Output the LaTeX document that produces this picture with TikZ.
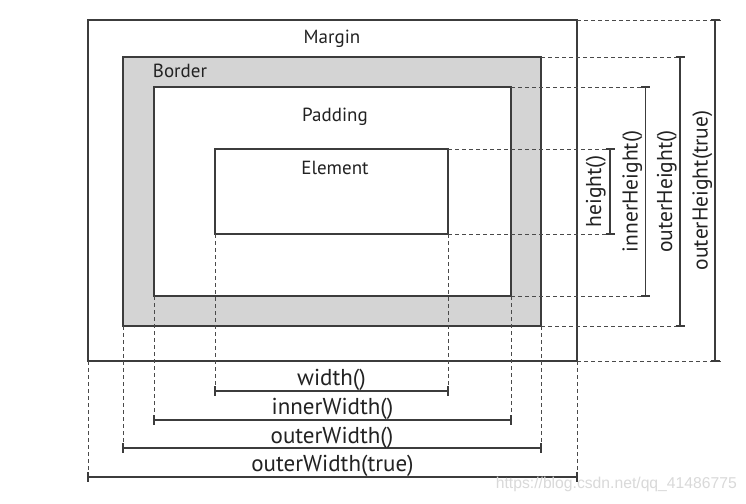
\documentclass[tikz,border=0pt]{standalone}
\usepackage{fontspec}
\setmainfont{PT Sans}
\newfontfamily\wmfont{Liberation Sans}
\definecolor{boxc}{HTML}{3C3C3C}
\definecolor{guidec}{HTML}{4A4A4A}
\definecolor{fillc}{HTML}{D4D4D4}
\definecolor{txtc}{HTML}{222222}
\definecolor{wmc}{HTML}{D9D9D9}
\begin{document}
\begin{tikzpicture}[x=1pt,y=-1pt,
  box/.style={draw=boxc, line width=1.3pt},
  guide/.style={draw=guidec, line width=0.9pt, dash pattern=on 4pt off 3pt},
  dim/.style={draw=boxc, line width=1.1pt},
  lbl/.style={font=\fontsize{19}{22}\selectfont, text=txtc, inner sep=0pt, anchor=base},
  dlbl/.style={font=\fontsize{23}{26}\selectfont, text=txtc, inner sep=0pt, anchor=base},
  vlbl/.style={font=\fontsize{21.5}{25}\selectfont, text=txtc, inner sep=0pt, anchor=base, rotate=90}]
\useasboundingbox (0,0) rectangle (746,503);
\fill[white] (0,0) rectangle (746,503);
% box corners
\coordinate (M1) at (88,20);  \coordinate (M2) at (577,361);
\coordinate (B1) at (123,57); \coordinate (B2) at (541,326);
\coordinate (P1) at (154,87); \coordinate (P2) at (511,296);
\coordinate (E1) at (215,149);\coordinate (E2) at (448,234);
% boxes
\draw[box] (M1) rectangle (M2);
\filldraw[box, fill=fillc] (B1) rectangle (B2);
\filldraw[box, fill=white] (P1) rectangle (P2);
\draw[box] (E1) rectangle (E2);
% box labels
\node[lbl] (lm) at (332,44) {Margin};
\node[lbl] (lb) at (180,77.5) {Border};
\node[lbl] (lp) at (335,121) {Padding};
\node[lbl] (le) at (335,174) {Element};
% horizontal guides to the right
\coordinate (hE1) at (613,149); \coordinate (hE2) at (613,234);
\coordinate (hP1) at (650,87);  \coordinate (hP2) at (650,296);
\coordinate (hB1) at (686,57);  \coordinate (hB2) at (686,326);
\coordinate (hM1) at (721,20);  \coordinate (hM2) at (721,361);
\draw[guide] (E2 |- E1) -- (hE1);
\draw[guide] (E2) -- (hE2);
\draw[guide] (P2 |- P1) -- (hP1);
\draw[guide] (P2) -- (hP2);
\draw[guide] (B2 |- B1) -- (hB1);
\draw[guide] (B2) -- (hB2);
\draw[guide] (M2 |- M1) -- (hM1);
\draw[guide] (M2) -- (hM2);
% vertical guides downward
\coordinate (wE1) at (215,396); \coordinate (wE2) at (448,396);
\coordinate (wP1) at (154,425); \coordinate (wP2) at (511,425);
\coordinate (wB1) at (123,453); \coordinate (wB2) at (541,453);
\coordinate (wM1) at (88,482);  \coordinate (wM2) at (577,482);
\draw[guide] (E1 |- E2) -- (wE1);
\draw[guide] (E2) -- (wE2);
\draw[guide] (P1 |- P2) -- (wP1);
\draw[guide] (P2) -- (wP2);
\draw[guide] (B1 |- B2) -- (wB1);
\draw[guide] (B2) -- (wB2);
\draw[guide] (M1 |- M2) -- (wM1);
\draw[guide] (M2) -- (wM2);
% width dimension lines
\foreach \xa/\xb/\yy in {215/448/391, 154/511/420, 123/541/448, 88/577/477}{
  \draw[dim] (\xa,\yy) -- (\xb,\yy);
  \draw[dim] (\xa,\yy-5) -- (\xa,\yy+5);
  \draw[dim] (\xb,\yy-5) -- (\xb,\yy+5);
}
% height dimension lines
\foreach \xx/\ya/\yb in {610/149/234, 645.5/87/296, 680/57/326, 715/20/361}{
  \draw[dim] (\xx,\ya) -- (\xx,\yb);
  \draw[dim] (\xx-4.5,\ya) -- (\xx+4.5,\ya);
  \draw[dim] (\xx-4.5,\yb) -- (\xx+4.5,\yb);
}
% dimension labels
\node[dlbl] (dw)  at (331.5,385.5) {width()};
\node[dlbl] (diw) at (332.5,414.5) {innerWidth()};
\node[dlbl] (dow) at (332,443) {outerWidth()};
\node[dlbl] (dowt) at (332.5,471.5) {outerWidth(true)};
\node[vlbl] (dh)  at (601,191.5) {height()};
\node[vlbl] (dih) at (637.5,191.5) {innerHeight()};
\node[vlbl] (doh) at (672,191.5) {outerHeight()};
\node[vlbl] (doht) at (707.5,190.5) {outerHeight(true)};
% watermark
\node[font=\wmfont\fontsize{15.7}{18}\selectfont, text=wmc, inner sep=0pt, anchor=base east] (wm) at (737,488) {https://blog.csdn.net/qq\_41486775};
\end{tikzpicture}
\end{document}
